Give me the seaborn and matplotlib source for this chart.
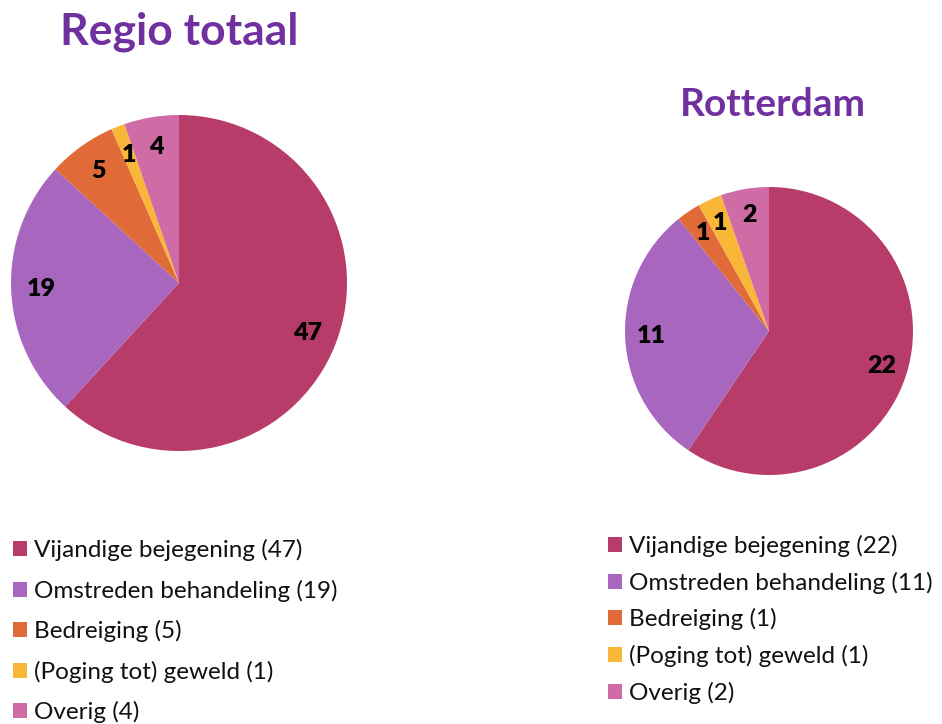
import matplotlib
matplotlib.use("Agg")
import matplotlib.pyplot as plt
from matplotlib.patches import Patch
import seaborn as sb

categories = ["Vijandige bejegening", "Omstreden behandeling", "Bedreiging",
              "(Poging tot) geweld", "Overig"]
regio_values = [47, 19, 5, 1, 4]
rotterdam_values = [22, 11, 1, 1, 2]
titles = ["Regio totaal", "Rotterdam"]
colors = ["#B83C6A", "#A966BE", "#E06B38", "#F9B73A", "#D06CA5"]

sb.set_theme(style="white")
plt.rcParams['font.family'] = ['Lato', 'DejaVu Sans']

W, H = 942, 724
fig = plt.figure(figsize=(W / 100, H / 100), dpi=100)


def px_axes(cx, cy, r):
    # axes holding a unit pie, placed by pixel centre and radius
    return fig.add_axes([(cx - r) / W, (H - cy - r) / H, 2 * r / W, 2 * r / H])


def draw_pie(ax, values):
    ax.pie(values, colors=colors, startangle=90, counterclock=False,
           labels=[str(v) for v in values], labeldistance=0.82,
           textprops={'fontsize': 18, 'fontweight': 'heavy', 'color': 'black',
                      'ha': 'center', 'va': 'center'},
           wedgeprops={'linewidth': 0})
    ax.set_xlim(-1, 1)
    ax.set_ylim(-1, 1)
    ax.set_aspect('equal')
    ax.axis('off')


ax1 = px_axes(179, 283, 168)
draw_pie(ax1, regio_values)
ax2 = px_axes(769, 331, 144)
draw_pie(ax2, rotterdam_values)

fig.text(179 / W, 1 - 32 / H, titles[0], color="#7030A0", fontsize=32,
         fontweight='bold', ha='center', va='center')
fig.text(773 / W, 1 - 105 / H, titles[1], color="#7030A0", fontsize=28,
         fontweight='bold', ha='center', va='center')


def legend_for(values, anchor, spacing):
    handles = [Patch(facecolor=c, edgecolor='none') for c in colors]
    labels = [f"{cat} ({v})" for cat, v in zip(categories, values)]
    leg = fig.legend(handles, labels, loc='upper left', bbox_to_anchor=anchor,
                     frameon=False, fontsize=17.5, handlelength=0.58,
                     handleheight=0.58, handletextpad=0.29,
                     labelspacing=spacing, borderpad=0, borderaxespad=0)
    for t in leg.get_texts():
        t.set_color('#111111')
    return leg


legend_for(regio_values, (13 / W, 1 - 539 / H), 0.76)
legend_for(rotterdam_values, (608 / W, 1 - 535 / H), 0.60)

fig.savefig("out.png", dpi=100, facecolor='white')
